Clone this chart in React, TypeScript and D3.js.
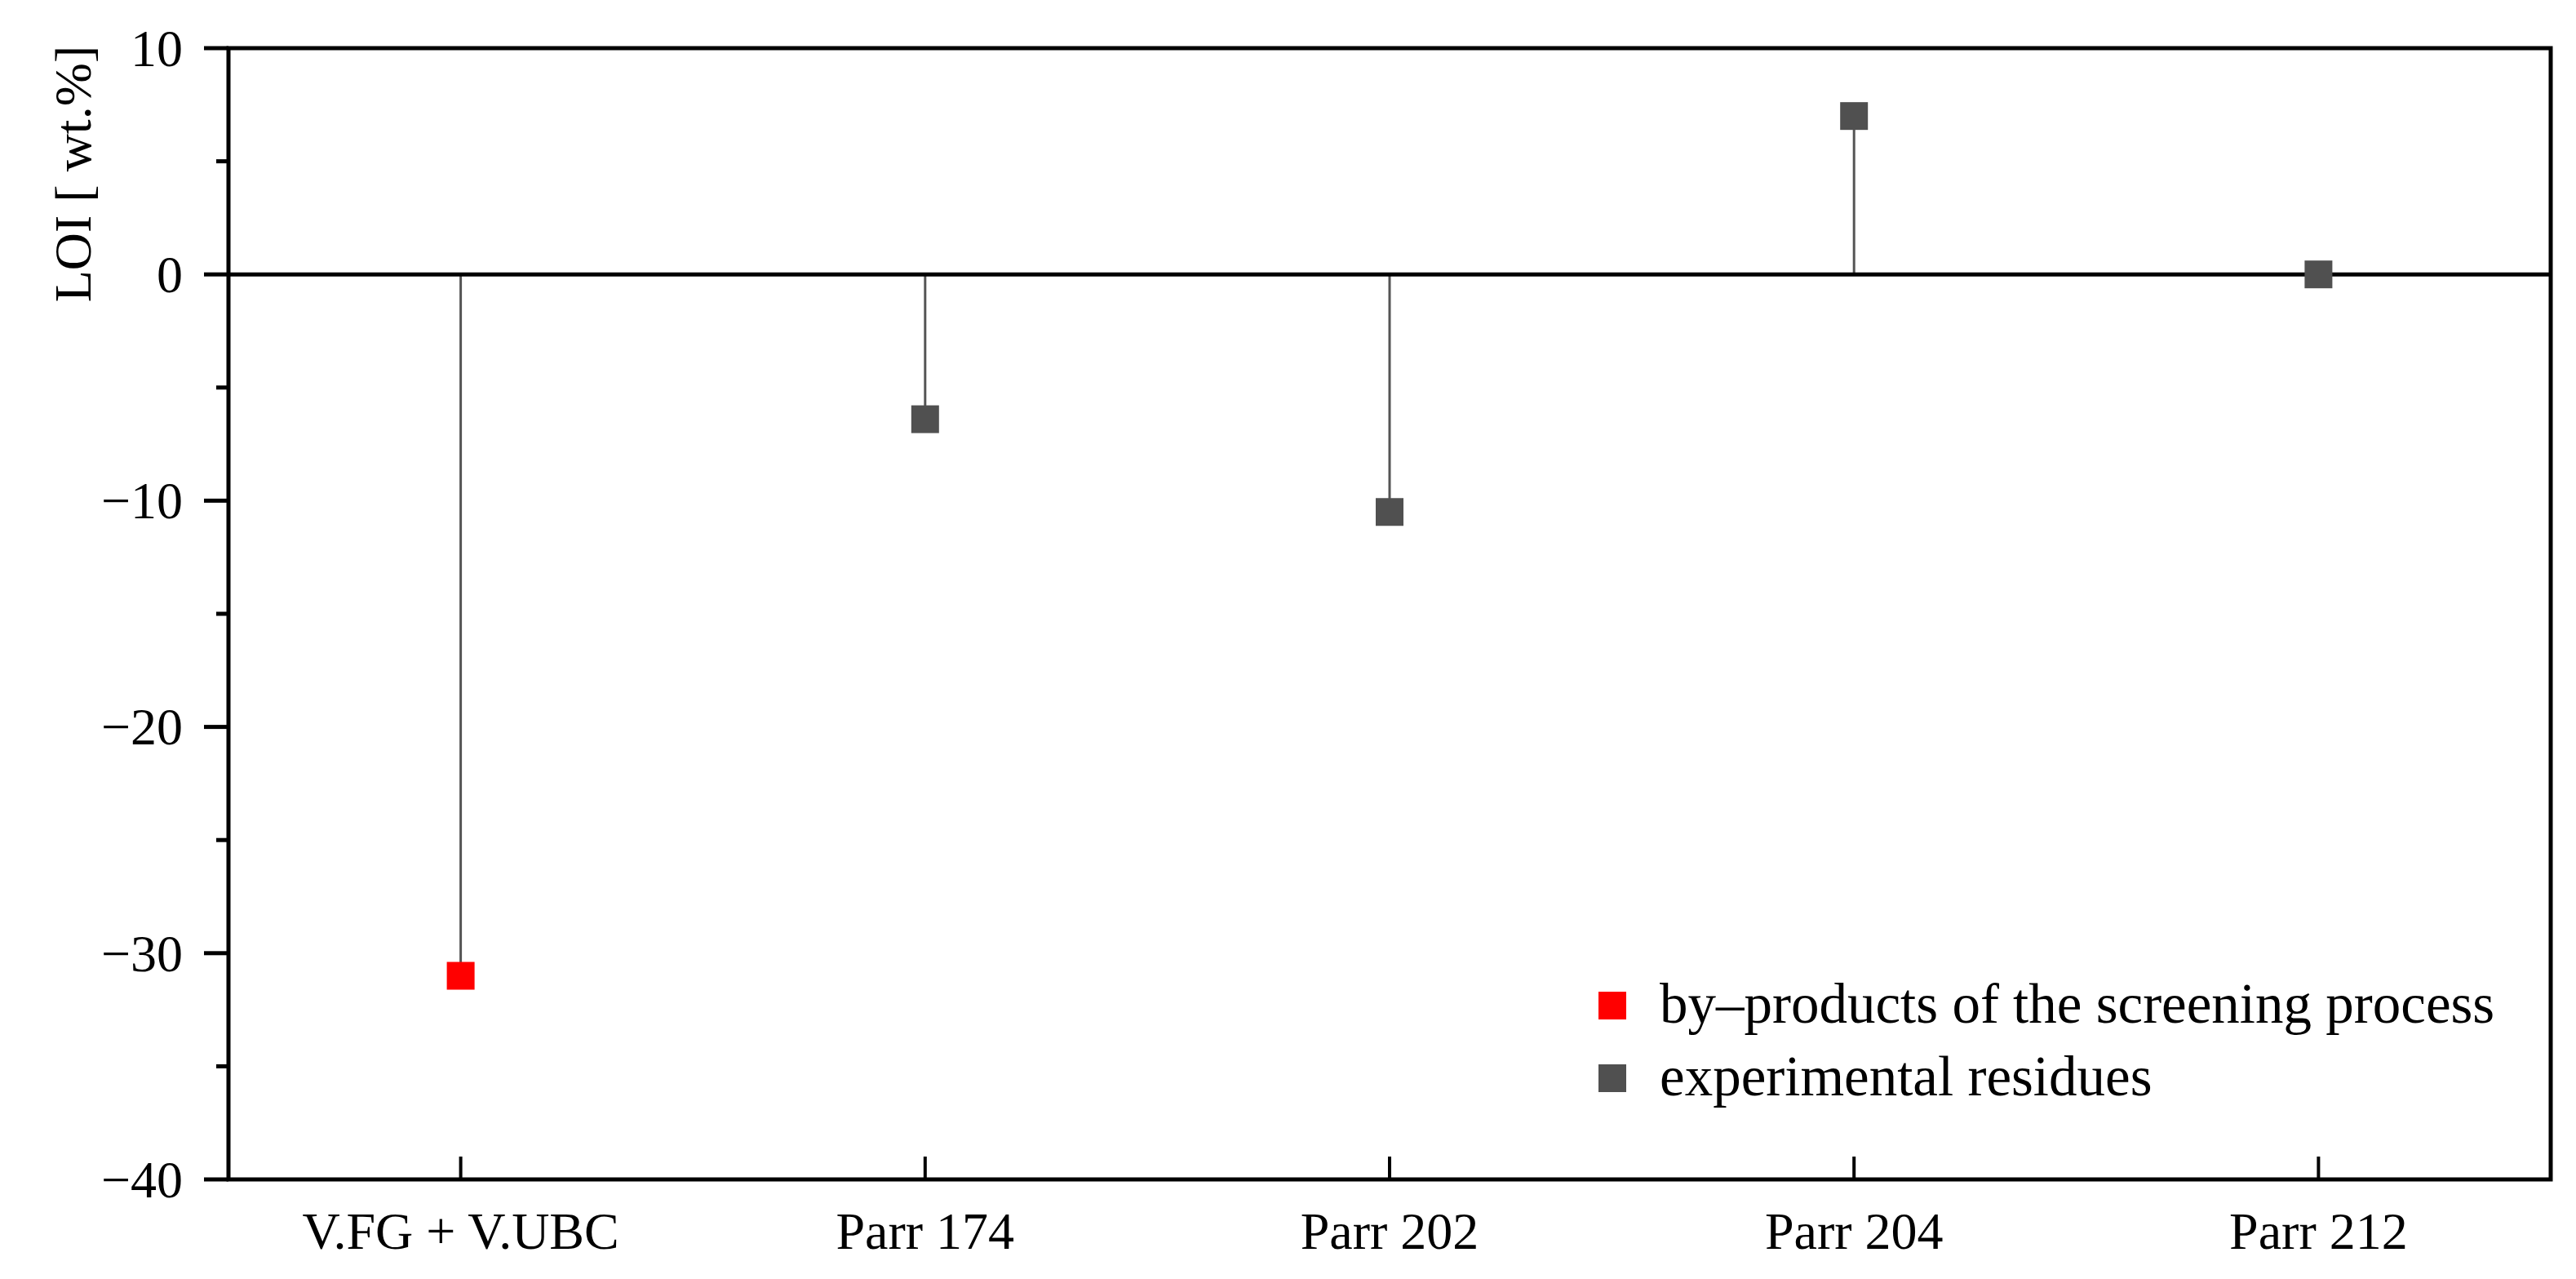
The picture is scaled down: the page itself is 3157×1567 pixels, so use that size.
import React from "react";
import * as d3 from "d3";

const categories = ["V.FG + V.UBC", "Parr 174", "Parr 202", "Parr 204", "Parr 212"];
const values = [-31.0, -6.4, -10.5, 7.0, 0.0];
const seriesIndex = [0, 1, 1, 1, 1];
const legendLabels = ["by–products of the screening process", "experimental residues"];
const legendColors = ["#ff0000", "#505050"];
const yMajorTicks = [10, 0, -10, -20, -30, -40];
const yMinorTicks = [5, -5, -15, -25, -35];
const yLabel = "LOI [ wt.%]";

const W = 3157;
const H = 1567;
const left = 280;
const right = 3126;
const top = 59;
const bottom = 1445;
const FONT = "'Liberation Serif', 'Times New Roman', serif";

export default function App() {
  const x = d3.scalePoint<string>().domain(categories).range([left, right]).padding(0.5);
  const y = d3.scaleLinear().domain([-40, 10]).range([bottom, top]);
  const fmt = (v: number) => (v < 0 ? "\u2212" + Math.abs(v) : String(v));
  const sq = 34;

  return (
    <svg
      width={W}
      height={H}
      viewBox={`0 0 ${W} ${H}`}
      style={{ position: "absolute", left: 0, top: 0, background: "#fff" }}
      fontFamily={FONT}
    >
      <rect x={0} y={0} width={W} height={H} fill="#fff" />
      {/* stems */}
      {categories.map((c, i) => (
        <line
          key={"s" + c}
          x1={x(c)}
          x2={x(c)}
          y1={y(0)}
          y2={y(values[i])}
          stroke="#555"
          strokeWidth={3}
        />
      ))}
      {/* zero line */}
      <line x1={left} x2={right} y1={y(0)} y2={y(0)} stroke="#000" strokeWidth={5} />
      {/* markers */}
      {categories.map((c, i) => (
        <rect
          key={"m" + c}
          x={(x(c) as number) - sq / 2}
          y={y(values[i]) - sq / 2}
          width={sq}
          height={sq}
          fill={legendColors[seriesIndex[i]]}
        />
      ))}
      {/* frame */}
      <rect x={left} y={top} width={right - left} height={bottom - top} fill="none" stroke="#000" strokeWidth={5} />
      {/* y ticks */}
      {yMajorTicks.map((t) => (
        <g key={"yt" + t}>
          <line x1={left - 30} x2={left} y1={y(t)} y2={y(t)} stroke="#000" strokeWidth={5} />
          <text x={left - 56} y={y(t)} dy="0.34em" textAnchor="end" fontSize={64} fill="#000">
            {fmt(t)}
          </text>
        </g>
      ))}
      {yMinorTicks.map((t) => (
        <line key={"ym" + t} x1={left - 15} x2={left} y1={y(t)} y2={y(t)} stroke="#000" strokeWidth={5} />
      ))}
      {/* x ticks */}
      {categories.map((c) => (
        <g key={"xt" + c}>
          <line x1={x(c)} x2={x(c)} y1={bottom} y2={bottom - 28} stroke="#000" strokeWidth={4} />
          <text x={x(c)} y={1530} textAnchor="middle" fontSize={64} fill="#000">
            {c}
          </text>
        </g>
      ))}
      {/* y label */}
      <text
        transform={`translate(111, 213) rotate(-90)`}
        textAnchor="middle"
        fontSize={64}
        fill="#000"
      >
        {yLabel}
      </text>
      {/* legend */}
      {legendLabels.map((l, i) => (
        <g key={"lg" + i} transform={`translate(1976, ${1232 + i * 89})`}>
          <rect x={-sq / 2} y={-sq / 2} width={sq} height={sq} fill={legendColors[i]} />
          <text x={58} y={21} fontSize={69} fill="#000">
            {l}
          </text>
        </g>
      ))}
    </svg>
  );
}
